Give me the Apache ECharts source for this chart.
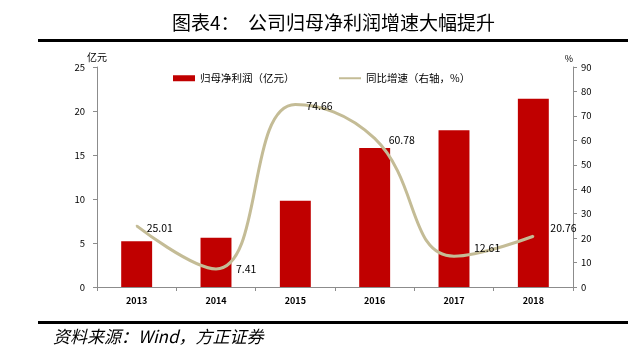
<!DOCTYPE html>
<html>
<head>
<meta charset="utf-8">
<script src="https://cdn.jsdelivr.net/npm/echarts@6/dist/echarts.min.js"></script>
<style>
html,body{margin:0;padding:0;background:#fff;}
#main{width:641px;height:352px;}
</style>
</head>
<body>
<div id="main"></div>
<script>
var years = ['2013', '2014', '2015', '2016', '2017', '2018'];
var profit = [5.2, 5.6, 9.8, 15.8, 17.8, 21.4];
var growth = [25.01, 7.41, 74.66, 60.78, 12.61, 20.76];

var myChart = echarts.init(document.getElementById('main'));
var font = '"Noto Sans CJK SC", "Noto Sans", sans-serif';

// label placement for each growth point
var labelOffsets = [[4, 2], [14, 0], [5, 2], [8, 2], [14, -8], [11, -8]];
var growthData = growth.map(function (v, i) {
    return {
        value: v,
        label: { position: 'right', offset: labelOffsets[i] }
    };
});

var legendText = { fontSize: 10.5, color: '#000', fontFamily: font };

var option = {
    animation: false,
    textStyle: { fontFamily: font },
    grid: { left: 97, right: 68, top: 67, bottom: 65 },
    legend: [{
        top: 68,
        left: 168,
        itemWidth: 22,
        itemHeight: 6,
        itemGap: 3,
        textStyle: legendText,
        data: [{ name: '归母净利润（亿元）', icon: 'rect' }]
    }, {
        top: 68,
        left: 334,
        itemWidth: 22,
        itemHeight: 6,
        textStyle: legendText,
        data: [{ name: '同比增速（右轴，%）', icon: 'path://M0,0 L22,0 L22,2 L0,2 Z' }]
    }],
    xAxis: {
        type: 'category',
        data: years,
        axisLine: { lineStyle: { color: '#8c8c8c' } },
        axisTick: { show: true, length: 4, lineStyle: { color: '#8c8c8c' } },
        axisLabel: { color: '#000', fontSize: 9, fontWeight: 'bold', margin: 9 }
    },
    yAxis: [{
        type: 'value',
        min: 0, max: 25, interval: 5,
        name: '亿元',
        nameGap: 2,
        nameTextStyle: { color: '#000', fontSize: 10, align: 'center' },
        axisLine: { show: true, lineStyle: { color: '#8c8c8c' } },
        axisTick: { show: true, length: 4, lineStyle: { color: '#8c8c8c' } },
        axisLabel: { color: '#000', fontSize: 9.5, margin: 12 },
        splitLine: { show: false }
    }, {
        type: 'value',
        min: 0, max: 90, interval: 10,
        name: '%',
        nameGap: 4,
        nameTextStyle: { color: '#000', fontSize: 9, align: 'right' },
        axisLine: { show: true, lineStyle: { color: '#8c8c8c' } },
        axisTick: { show: true, length: 4, lineStyle: { color: '#8c8c8c' } },
        axisLabel: { color: '#000', fontSize: 9.5, margin: 8 },
        splitLine: { show: false }
    }],
    series: [{
        name: '归母净利润（亿元）',
        type: 'bar',
        data: profit,
        barWidth: '39%',
        itemStyle: { color: '#c00000' }
    }, {
        name: '同比增速（右轴，%）',
        type: 'line',
        yAxisIndex: 1,
        smooth: 0.45,
        data: growthData,
        symbol: 'circle',
        symbolSize: 2,
        showSymbol: true,
        lineStyle: { color: '#c4bc96', width: 3 },
        itemStyle: { color: '#c4bc96' },
        label: {
            show: true, color: '#000', fontSize: 10.5,
            formatter: function (p) { return Number(p.value).toFixed(2); }
        }
    }],
    graphic: [{
        type: 'text',
        left: 172,
        top: 13,
        style: { text: '图表4：  公司归母净利润增速大幅提升', font: '19px ' + font, fill: '#000' }
    }, {
        type: 'rect',
        shape: { x: 38, y: 39, width: 590, height: 3 },
        style: { fill: '#000' }
    }, {
        type: 'rect',
        shape: { x: 38, y: 321, width: 590, height: 3 },
        style: { fill: '#000' }
    }, {
        type: 'text',
        left: 53,
        top: 328,
        style: { text: '资料来源：Wind，方正证券', font: 'italic 17px ' + font, fill: '#000' }
    }]
};

myChart.setOption(option);
window.addEventListener('resize', function () {
    myChart.resize();
});
</script>
</body>
</html>
